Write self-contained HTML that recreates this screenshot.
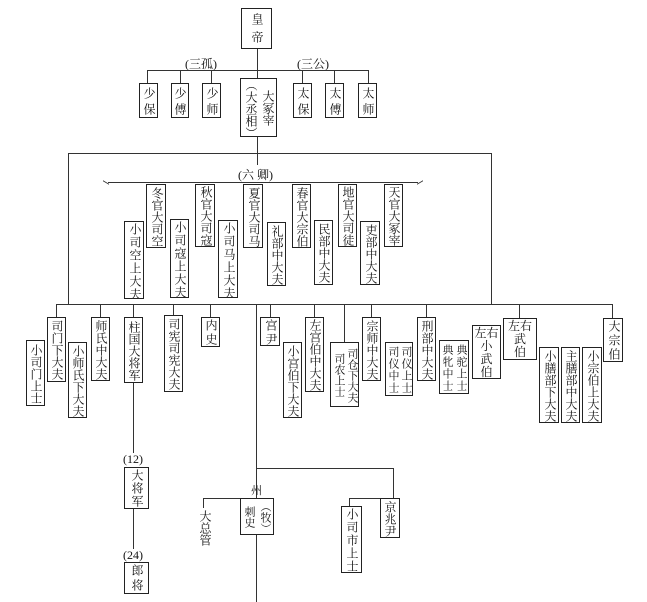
<!DOCTYPE html>
<html><head><meta charset="utf-8">
<style>
body{margin:0;background:#fff;width:647px;height:602px;position:relative;overflow:hidden;font-family:"Liberation Serif","Noto Serif CJK SC",serif;color:#111}
.b{position:absolute;box-sizing:border-box;border:1px solid #222;writing-mode:vertical-rl;font-size:12px;line-height:17px;text-align:center;padding-top:1px;letter-spacing:0;overflow:hidden;white-space:nowrap}
.h{position:absolute;height:1px;background:#333}
.v{position:absolute;width:1px;background:#333}
.t{position:absolute;font-size:12px;white-space:nowrap}
.vt{position:absolute;writing-mode:vertical-rl;font-size:12px;line-height:14px}
.hb{position:absolute;box-sizing:border-box;border:1px solid #222;font-size:12px;line-height:13px;text-align:center;padding-top:1px}
</style></head><body>
<div class="b" style="left:241px;top:8px;width:31px;height:41px;padding-top:4px;letter-spacing:6px;line-height:29px">皇帝</div>
<div class="v" style="left:257px;top:49px;height:29px"></div>
<div class="t" style="left:185px;top:55px">(三孤)</div>
<div class="t" style="left:297px;top:55px">(三公)</div>
<div class="h" style="left:147px;top:70px;width:222px"></div>
<div class="v" style="left:147px;top:70px;height:13px"></div>
<div class="v" style="left:180px;top:70px;height:13px"></div>
<div class="v" style="left:211px;top:70px;height:13px"></div>
<div class="v" style="left:302px;top:70px;height:13px"></div>
<div class="v" style="left:334px;top:70px;height:13px"></div>
<div class="v" style="left:368px;top:70px;height:13px"></div>
<div class="b" style="left:139px;top:83px;width:19px;height:35px;letter-spacing:4px;padding-top:3px">少保</div>
<div class="b" style="left:171px;top:83px;width:18px;height:35px;letter-spacing:4px;padding-top:3px">少傅</div>
<div class="b" style="left:202px;top:83px;width:19px;height:35px;letter-spacing:4px;padding-top:3px">少师</div>
<div class="b" style="left:240px;top:78px;width:37px;height:59px;line-height:17px;font-size:12px;padding-top:0">大冢宰<br>（大丞相）</div>
<div class="b" style="left:293px;top:83px;width:19px;height:35px;letter-spacing:4px;padding-top:3px">太保</div>
<div class="b" style="left:325px;top:83px;width:19px;height:35px;letter-spacing:4px;padding-top:3px">太傅</div>
<div class="b" style="left:358px;top:83px;width:19px;height:35px;letter-spacing:4px;padding-top:3px">太师</div>
<div class="v" style="left:257px;top:137px;height:28px"></div>
<div style="position:absolute;left:68px;top:153px;width:424px;height:151px;border:1px solid #333;border-bottom:none;box-sizing:border-box"></div>
<div class="t" style="left:238px;top:166px">(六&nbsp;卿)</div>
<div class="h" style="left:108px;top:182px;width:310px"></div>
<div style="position:absolute;left:103px;top:182px;width:6px;height:5px;border-top:1px solid #333;transform:skewY(30deg)"></div>
<div style="position:absolute;left:417px;top:182px;width:6px;height:5px;border-top:1px solid #333;transform:skewY(-30deg)"></div>
<div class="b" style="left:146px;top:184px;width:20px;height:64px">冬官大司空</div>
<div class="b" style="left:124px;top:221px;width:20px;height:78px;letter-spacing:1px">小司空上大夫</div>
<div class="b" style="left:195px;top:184px;width:20px;height:63px">秋官大司寇</div>
<div class="b" style="left:170px;top:219px;width:19px;height:79px;letter-spacing:1px">小司寇上大夫</div>
<div class="b" style="left:243px;top:184px;width:20px;height:64px">夏官大司马</div>
<div class="b" style="left:218px;top:220px;width:20px;height:78px;letter-spacing:1px">小司马上大夫</div>
<div class="b" style="left:267px;top:222px;width:19px;height:64px">礼部中大夫</div>
<div class="b" style="left:292px;top:184px;width:19px;height:64px">春官大宗伯</div>
<div class="b" style="left:314px;top:220px;width:19px;height:65px">民部中大夫</div>
<div class="b" style="left:338px;top:184px;width:19px;height:63px">地官大司徒</div>
<div class="b" style="left:360px;top:221px;width:20px;height:64px">吏部中大夫</div>
<div class="b" style="left:384px;top:184px;width:19px;height:63px">天官大冢宰</div>
<div class="h" style="left:56px;top:304px;width:557px"></div>
<div class="v" style="left:56px;top:304px;height:13px"></div>
<div class="v" style="left:100px;top:304px;height:13px"></div>
<div class="v" style="left:133px;top:304px;height:13px"></div>
<div class="v" style="left:173px;top:304px;height:11px"></div>
<div class="v" style="left:210px;top:304px;height:13px"></div>
<div class="v" style="left:256px;top:304px;height:298px"></div>
<div class="v" style="left:270px;top:304px;height:13px"></div>
<div class="v" style="left:314px;top:304px;height:13px"></div>
<div class="v" style="left:344px;top:304px;height:38px"></div>
<div class="v" style="left:371px;top:304px;height:13px"></div>
<div class="v" style="left:426px;top:304px;height:13px"></div>
<div class="v" style="left:519px;top:304px;height:14px"></div>
<div class="v" style="left:612px;top:304px;height:14px"></div>
<div class="b" style="left:47px;top:317px;width:19px;height:65px">司门下大夫</div>
<div class="b" style="left:26px;top:340px;width:19px;height:66px">小司门上士</div>
<div class="b" style="left:68px;top:342px;width:19px;height:76px">小师氏下大夫</div>
<div class="b" style="left:91px;top:317px;width:19px;height:64px">师氏中大夫</div>
<div class="b" style="left:124px;top:317px;width:19px;height:66px">柱国大将军</div>
<div class="b" style="left:164px;top:315px;width:19px;height:77px">司宪司宪大夫</div>
<div class="b" style="left:201px;top:317px;width:19px;height:30px;letter-spacing:2px">内史</div>
<div class="b" style="left:260px;top:317px;width:20px;height:29px;letter-spacing:2px">宫尹</div>
<div class="b" style="left:283px;top:342px;width:19px;height:76px">小宫伯下大夫</div>
<div class="b" style="left:305px;top:317px;width:19px;height:75px">左宫伯中大夫</div>
<div class="b" style="left:330px;top:342px;width:29px;height:65px;line-height:13px;font-size:11px">司仓下大夫<br>司农上士</div>
<div class="b" style="left:362px;top:317px;width:19px;height:64px">宗师中大夫</div>
<div class="b" style="left:385px;top:342px;width:28px;height:54px;line-height:13px;font-size:11px;letter-spacing:1px">司仪上士<br>司仪中士</div>
<div class="b" style="left:417px;top:317px;width:19px;height:64px">刑部中大夫</div>
<div class="b" style="left:439px;top:340px;width:30px;height:54px;line-height:14px;font-size:11px;letter-spacing:1px">典驼上士<br>典牝中士</div>
<div class="hb" style="left:472px;top:325px;width:29px;height:54px">左右<br>小<br>武<br>伯</div>
<div class="hb" style="left:503px;top:318px;width:34px;height:42px">左右<br>武<br>伯</div>
<div class="b" style="left:539px;top:347px;width:20px;height:76px">小膳部下大夫</div>
<div class="b" style="left:561px;top:347px;width:19px;height:76px">主膳部中大夫</div>
<div class="b" style="left:582px;top:347px;width:20px;height:76px">小宗伯上大夫</div>
<div class="b" style="left:603px;top:318px;width:20px;height:44px;letter-spacing:2px">大宗伯</div>
<div class="v" style="left:133px;top:383px;height:70px"></div>
<div class="t" style="left:123px;top:452px">(12)</div>
<div class="b" style="left:124px;top:467px;width:25px;height:42px;letter-spacing:1px;line-height:23px">大将军</div>
<div class="v" style="left:133px;top:509px;height:40px"></div>
<div class="t" style="left:123px;top:548px">(24)</div>
<div class="b" style="left:124px;top:562px;width:25px;height:32px;letter-spacing:3px;line-height:23px">郎将</div>
<div class="h" style="left:256px;top:468px;width:138px"></div>
<div class="v" style="left:393px;top:468px;height:30px"></div>
<div class="h" style="left:349px;top:498px;width:45px"></div>
<div class="v" style="left:349px;top:498px;height:8px"></div>
<div class="b" style="left:341px;top:506px;width:21px;height:67px;letter-spacing:1px;line-height:19px">小司市上士</div>
<div class="b" style="left:380px;top:498px;width:20px;height:40px;line-height:18px">京兆尹</div>
<div class="t" style="left:251px;top:482px;font-size:11px">州</div>
<div class="h" style="left:203px;top:498px;width:38px"></div>
<div class="v" style="left:203px;top:498px;height:10px"></div>
<div class="vt" style="left:198px;top:510px">大总管</div>
<div class="b" style="left:240px;top:498px;width:34px;height:37px;line-height:16px;font-size:11px;background:#fff">（牧）<br>刺史</div>
</body></html>
